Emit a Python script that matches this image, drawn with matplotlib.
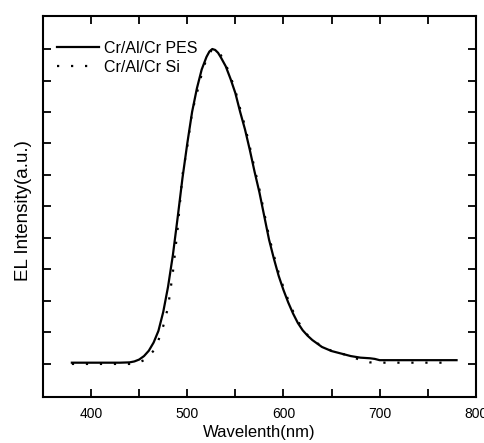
import numpy as np
import matplotlib
matplotlib.use("Agg")
import matplotlib.pyplot as plt

plt.rcParams['font.family'] = ['Liberation Sans', 'DejaVu Sans']

# ---------- data ----------
wl_pes = [380, 390, 400, 410, 420, 430, 440, 445, 450, 455, 460, 465, 470, 475,
          480, 485, 490, 495, 500, 505, 510, 515, 520, 523, 526, 529, 532, 535,
          540, 545, 550, 555, 560, 565, 570, 575, 580, 585, 590, 595, 600, 605,
          610, 615, 620, 625, 630, 640, 650, 660, 670, 680, 690, 695, 700, 710,
          720, 740, 760, 780]
el_pes = [0.004, 0.004, 0.004, 0.004, 0.004, 0.004, 0.005, 0.008, 0.014, 0.025,
          0.042, 0.068, 0.105, 0.165, 0.245, 0.345, 0.465, 0.59, 0.70, 0.80,
          0.875, 0.935, 0.975, 0.992, 1.0, 0.997, 0.988, 0.973, 0.945, 0.905,
          0.86, 0.80, 0.745, 0.68, 0.61, 0.545, 0.47, 0.395, 0.335, 0.28, 0.235,
          0.195, 0.16, 0.13, 0.107, 0.09, 0.076, 0.054, 0.041, 0.033, 0.025,
          0.02, 0.018, 0.016, 0.012, 0.012, 0.012, 0.012, 0.012, 0.012]

wl_si = [380, 390, 400, 410, 420, 430, 440, 450, 455, 460, 465, 470, 475, 480,
         485, 490, 495, 500, 505, 510, 515, 520, 526, 530, 535, 540, 545, 550,
         555, 560, 565, 570, 575, 580, 585, 590, 595, 600, 605, 610, 615, 620,
         625, 630, 640, 650, 660, 670, 680, 690, 700, 720, 740, 760, 775]
el_si = [0.0, 0.0, 0.0, 0.0, 0.0, 0.0, 0.0, 0.005, 0.012, 0.025, 0.042, 0.075,
         0.12, 0.18, 0.29, 0.43, 0.60, 0.69, 0.80, 0.86, 0.92, 0.97, 1.0, 0.998,
         0.98, 0.952, 0.912, 0.868, 0.81, 0.755, 0.69, 0.62, 0.555, 0.48, 0.405,
         0.345, 0.29, 0.243, 0.203, 0.167, 0.137, 0.11, 0.092, 0.078, 0.055,
         0.042, 0.033, 0.025, 0.012, 0.005, 0.004, 0.004, 0.004, 0.004, 0.004]

labels = ["Cr/Al/Cr PES", "Cr/Al/Cr Si"]

# ---------- plot ----------
fig = plt.figure(figsize=(4.85, 4.43), dpi=100)
ax = fig.add_axes([0.0887, 0.1038, 0.8923, 0.8602])

ax.plot(wl_pes, el_pes, color='black', lw=1.6, label=labels[0])
ax.plot(wl_si, el_si, color='black', lw=1.6, linestyle=(0, (1, 5.3)),
        label=labels[1])

ax.set_xlim(350, 800)
ax.set_ylim(-0.105, 1.105)
ax.set_xticks([400, 500, 600, 700, 800])
ax.set_xticks(np.arange(350, 800, 50), minor=True)
ax.set_yticks(np.arange(0, 1.01, 0.1))
ax.set_yticklabels([])

ax.tick_params(which='both', direction='in', top=True, right=True,
               length=6, width=1.3, labelsize=10, pad=7)
for s in ax.spines.values():
    s.set_linewidth(1.5)

ax.set_xlabel("Wavelenth(nm)", fontsize=12, labelpad=3)
ax.set_ylabel("EL Intensity(a.u.)", fontsize=13.5)
ax.yaxis.set_label_coords(-0.025, 0.488)

ax.legend(loc='upper left', bbox_to_anchor=(0.0, 0.972), frameon=False,
          fontsize=11.5, handlelength=2.6, handletextpad=0.33,
          labelspacing=0.25, borderaxespad=0.5)

fig.savefig("out.png", dpi=100)
